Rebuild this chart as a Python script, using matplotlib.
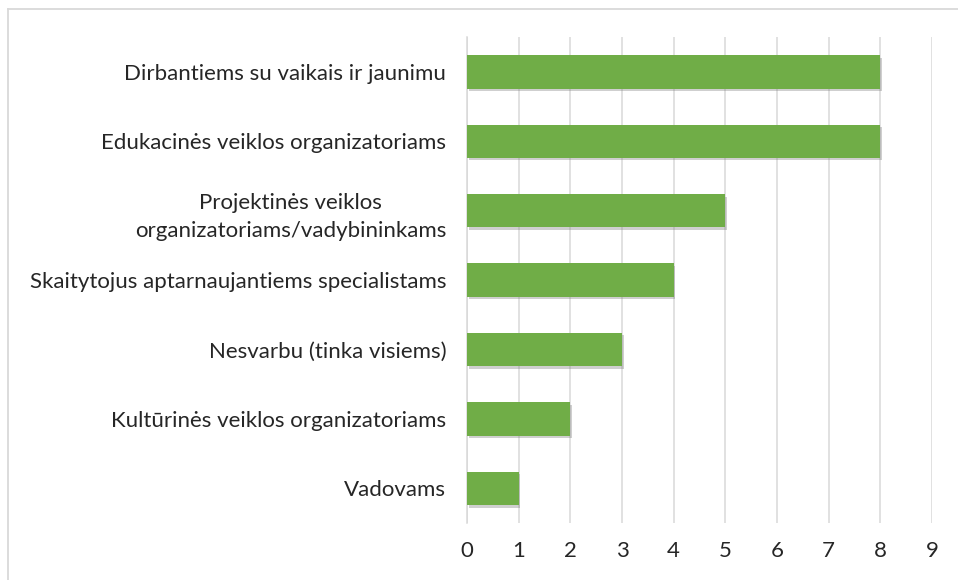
import matplotlib
matplotlib.use("Agg")
from matplotlib import pyplot as plt
from matplotlib import patheffects
from matplotlib.lines import Line2D

plt.rcParams["font.family"] = ["Lato", "DejaVu Sans"]

categories = [
    "Dirbantiems su vaikais ir jaunimu",
    "Edukacinės veiklos organizatoriams",
    "Projektinės veiklos\norganizatoriams/vadybininkams",
    "Skaitytojus aptarnaujantiems specialistams",
    "Nesvarbu (tinka visiems)",
    "Kultūrinės veiklos organizatoriams",
    "Vadovams",
]
values = [8, 8, 5, 4, 3, 2, 1]
x_ticks = list(range(0, 10))

fig = plt.figure(figsize=(9.58, 5.8), dpi=100)
ax = fig.add_axes([0.4875, 0.098, 0.4854, 0.838])

ypos = list(range(len(categories)))
bars = ax.barh(ypos, values, height=0.48, color="#70AD47", zorder=3)
for bar in bars:
    bar.set_path_effects([
        patheffects.SimplePatchShadow(offset=(1.2, -1.8), shadow_rgbFace="#777777", alpha=0.35),
        patheffects.Normal(),
    ])

ax.set_xlim(0, 9)
ax.set_ylim(len(categories) - 0.5, -0.5)
ax.set_xticks(x_ticks)
ax.set_yticks(ypos)
ax.set_yticklabels(categories, fontsize=16, color="#262626", multialignment="center",
                   linespacing=1.5)
ax.set_xticklabels([str(t) for t in x_ticks], fontsize=16, color="#262626")
ax.tick_params(axis="y", length=0, pad=15)
ax.tick_params(axis="x", length=0, pad=13)
ax.grid(axis="x", color="#d9d9d9", linewidth=1.1, zorder=0)
for side in ("top", "right", "bottom"):
    ax.spines[side].set_visible(False)
ax.spines["left"].set_color("#d9d9d9")
ax.spines["left"].set_linewidth(1.1)

# outer frame (top and left edges visible)
fig.add_artist(Line2D([8 / 958, 1.0], [1 - 8.5 / 580] * 2, transform=fig.transFigure, color="#d9d9d9", linewidth=1.3))
fig.add_artist(Line2D([8 / 958] * 2, [0.0, 1 - 8.5 / 580], transform=fig.transFigure, color="#d9d9d9", linewidth=1.3))

fig.savefig("out.png", dpi=100)
